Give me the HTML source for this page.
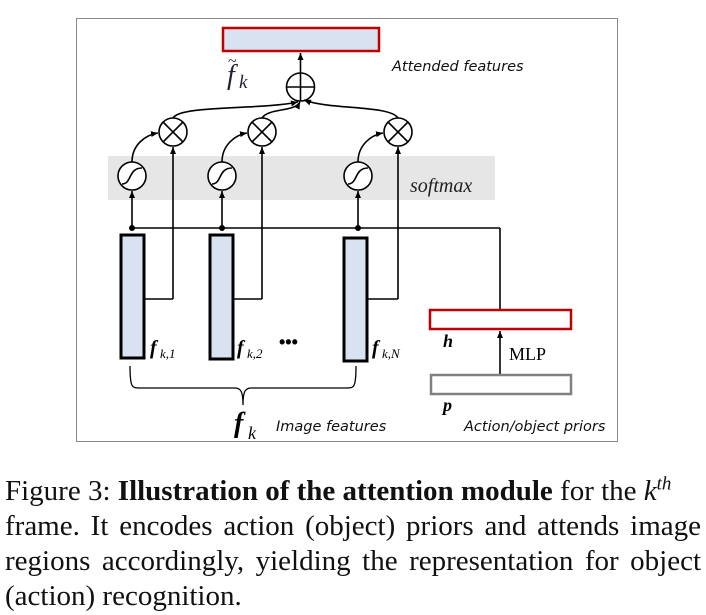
<!DOCTYPE html>
<html><head><meta charset="utf-8"><style>
body{margin:0;background:#fff;width:706px;height:615px;overflow:hidden;position:relative}
svg{position:absolute;left:0;top:0}
.cap{position:absolute;left:5px;top:474px;width:696px;font-family:"Liberation Serif",serif;font-size:29px;line-height:35px;color:#111}
.cap div{text-align:justify;text-align-last:justify;white-space:nowrap}
.cap div.l{text-align-last:left}
</style></head><body>
<svg width="706" height="460" viewBox="0 0 706 460">
<defs><marker id="a" markerWidth="8" markerHeight="8" refX="7" refY="4" orient="auto" markerUnits="userSpaceOnUse"><path d="M0,1 L7,4 L0,7 z" fill="#000"/></marker></defs>
<rect x="76.5" y="18.5" width="541" height="423" fill="none" stroke="#888" stroke-width="1"/>
<rect x="108" y="156" width="387" height="44" fill="#e6e6e6"/>
<text x="410" y="192" font-family="Liberation Serif,serif" font-style="italic" font-size="20" fill="#222">softmax</text>
<rect x="223" y="28" width="156" height="23" fill="#d9e2f1" stroke="#c00000" stroke-width="2.5"/>
<text x="392" y="71" font-family="DejaVu Sans,sans-serif" font-style="italic" font-size="14.5" fill="#111">Attended features</text>
<text x="227" y="84" font-family="Liberation Serif,serif" font-style="italic" font-size="28" fill="#223">f</text>
<text x="239" y="88" font-family="Liberation Serif,serif" font-style="italic" font-size="19" fill="#223">k</text>
<text x="228" y="66" font-family="Liberation Serif,serif" font-size="16" fill="#223">~</text>
<g stroke="#000" stroke-width="1.6" fill="none">
<line x1="300.5" y1="73" x2="300.5" y2="53" marker-end="url(#a)"/>
<circle cx="300.5" cy="87" r="14" fill="#fff"/><line x1="286.5" y1="87" x2="314.5" y2="87"/><line x1="300.5" y1="73" x2="300.5" y2="101"/>
<path d="M173,118 C180,105 260,110 298,102" marker-end="url(#a)"/>
<path d="M262,118 C268,108 295,112 300,102" marker-end="url(#a)"/>
<path d="M398,118 C390,105 330,110 304,100" marker-end="url(#a)"/>
<g fill="#fff">
<circle cx="173" cy="132" r="14"/><circle cx="262" cy="132" r="14"/><circle cx="398" cy="132" r="14"/>
</g>
<path d="M163,122 L183,142 M183,122 L163,142 M252,122 L272,142 M272,122 L252,142 M388,122 L408,142 M408,122 L388,142"/>
<path d="M132,162 C132,145 145,135 158,133" marker-end="url(#a)"/>
<path d="M222,162 C222,145 235,135 247,133" marker-end="url(#a)"/>
<path d="M358,162 C358,145 371,135 383,133" marker-end="url(#a)"/>
<g fill="#fff">
<circle cx="132" cy="176" r="14"/><circle cx="222" cy="176" r="14"/><circle cx="358" cy="176" r="14"/>
</g>
<path d="M122,184 C132,184 128,168 142,168 M212,184 C222,184 218,168 232,168 M348,184 C358,184 354,168 368,168"/>
<line x1="132" y1="228" x2="132" y2="191" marker-end="url(#a)"/>
<line x1="222" y1="228" x2="222" y2="191" marker-end="url(#a)"/>
<line x1="358" y1="228" x2="358" y2="191" marker-end="url(#a)"/>
<line x1="173" y1="299" x2="173" y2="147" marker-end="url(#a)"/>
<line x1="262" y1="299" x2="262" y2="147" marker-end="url(#a)"/>
<line x1="398" y1="299" x2="398" y2="147" marker-end="url(#a)"/>
<line x1="132" y1="228" x2="500" y2="228"/>
<line x1="500" y1="228" x2="500" y2="309"/>
<polyline points="145,299 173,299"/><polyline points="233,299 262,299"/><polyline points="367,299 398,299"/>
<line x1="500" y1="374" x2="500" y2="331" marker-end="url(#a)"/>
<path d="M130,366 C130,388 132,388 140,388 L235,388 C241,388 243,392 243,405 C243,392 245,388 251,388 L346,388 C354,388 356,388 356,366" stroke-width="1.3"/>
</g>
<g fill="#000"><circle cx="132" cy="228" r="3"/><circle cx="222" cy="228" r="3"/><circle cx="358" cy="228" r="3"/></g>
<g fill="#d9e2f1" stroke="#000" stroke-width="3">
<rect x="121" y="235" width="23" height="123"/><rect x="210" y="235" width="23" height="124"/><rect x="344" y="238" width="23" height="123"/>
</g>
<rect x="430" y="310" width="141" height="19" fill="#fff" stroke="#c00000" stroke-width="2.5"/>
<rect x="431" y="375" width="140" height="19" fill="#fff" stroke="#808080" stroke-width="2.5"/>
<g font-family="Liberation Serif,serif" font-weight="bold" font-style="italic" fill="#000">
<text x="150" y="354" font-size="20">f</text><text x="160" y="358" font-size="13" font-weight="normal">k,1</text>
<text x="237" y="354" font-size="20">f</text><text x="247" y="358" font-size="13" font-weight="normal">k,2</text>
<text x="372" y="354" font-size="20">f</text><text x="382" y="358" font-size="13" font-weight="normal">k,N</text>
<text x="443" y="347" font-size="18">h</text>
<text x="443" y="411" font-size="18">p</text>
<text x="234" y="432" font-size="28">f</text><text x="248" y="439" font-size="18" font-weight="normal">k</text>
</g>
<text x="279" y="348" font-family="Liberation Sans,sans-serif" font-weight="bold" font-size="18">•••</text>
<text x="509" y="360" font-family="Liberation Serif,serif" font-size="18">MLP</text>
<text x="276" y="431" font-family="DejaVu Sans,sans-serif" font-style="italic" font-size="14.5" fill="#111">Image features</text>
<text x="464" y="431" font-family="DejaVu Sans,sans-serif" font-style="italic" font-size="14.5" fill="#111">Action/object priors</text>
</svg>
<div class="cap">
<div class="l">Figure 3: <b>Illustration of the attention module</b> for the <i>k<sup style="font-size:19px;line-height:0">th</sup></i></div>
<div>frame. It encodes action (object) priors and attends image</div>
<div>regions accordingly, yielding the representation for object</div>
<div class="l">(action) recognition.</div>
</div>
</body></html>
